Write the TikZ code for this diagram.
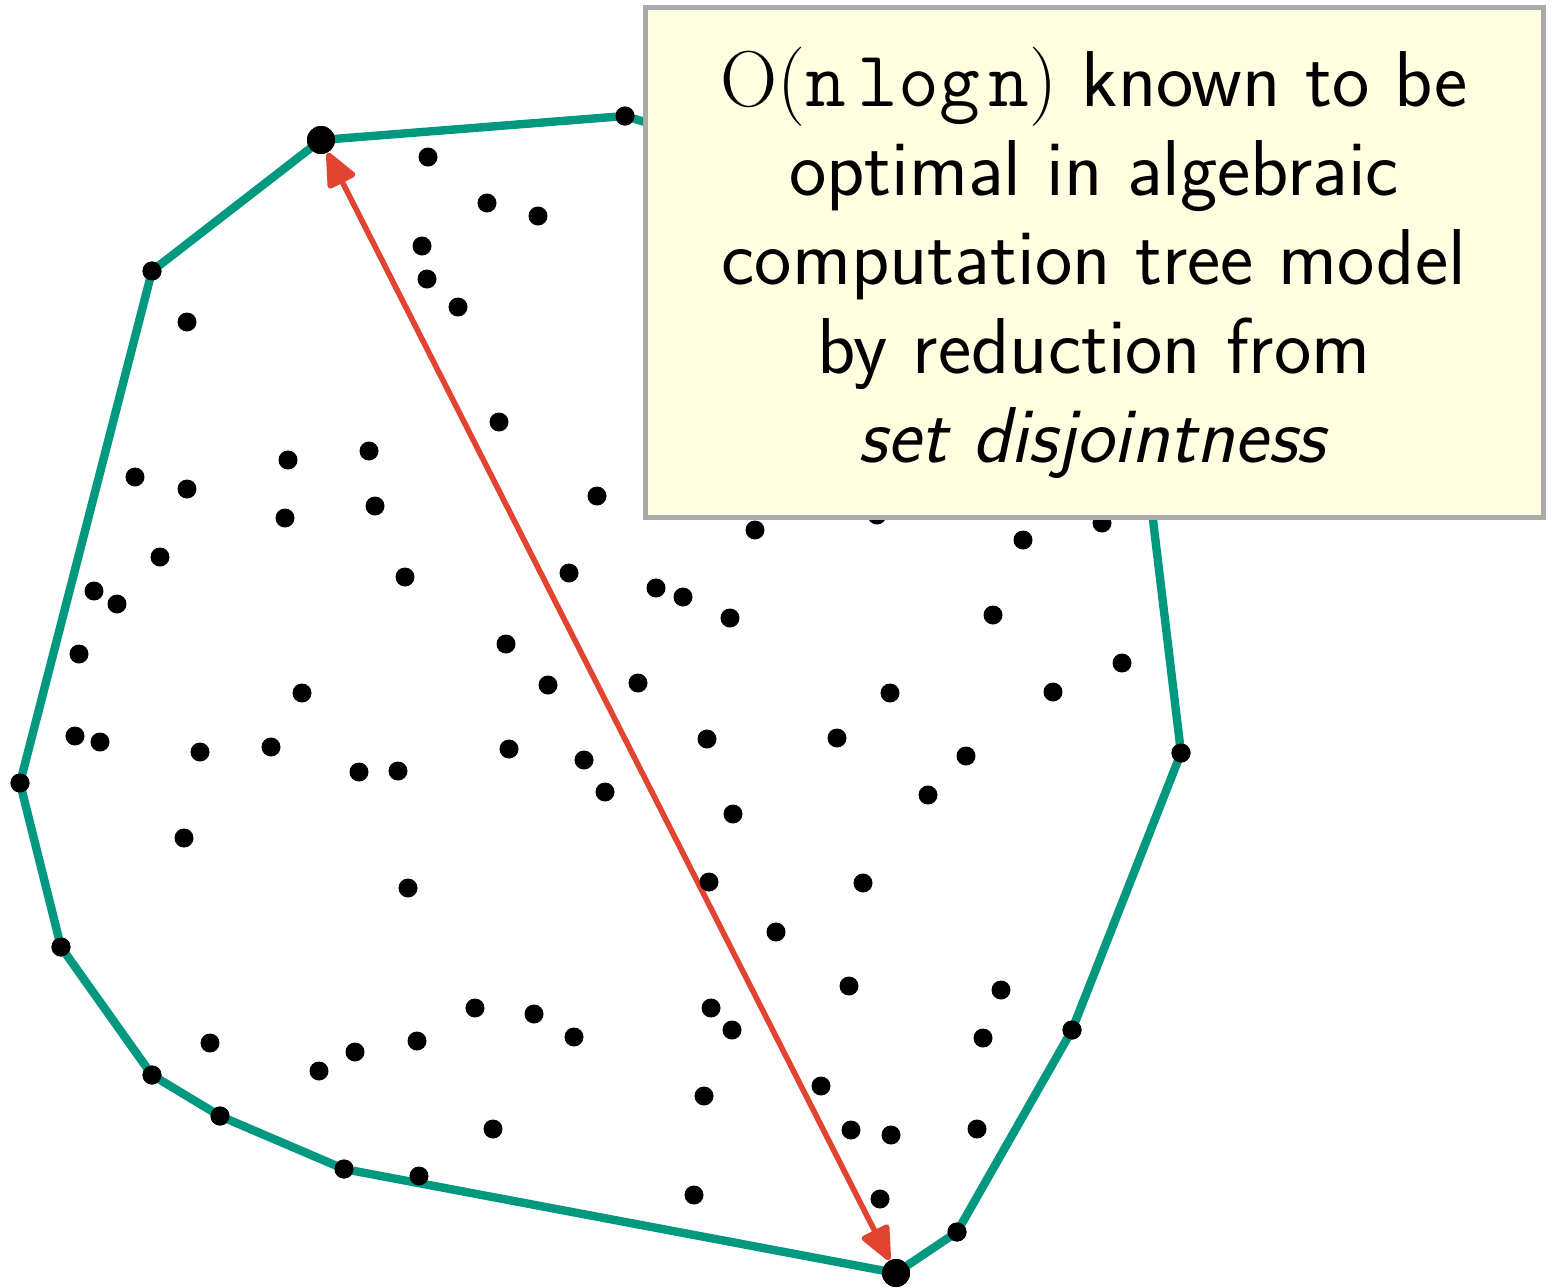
\documentclass[tikz,border=0pt]{standalone}
\usetikzlibrary{arrows.meta}
\definecolor{hullc}{RGB}{0,153,128}
\definecolor{arrowc}{RGB}{226,68,50}
\definecolor{notefill}{RGB}{255,254,224}
\definecolor{noteline}{RGB}{170,170,170}
\tikzset{
  dot/.style={circle,fill=black,inner sep=0pt,minimum size=9.5pt},
  bigdot/.style={circle,fill=black,inner sep=0pt,minimum size=14pt},
  hull/.style={draw=hullc,line width=4.2pt,line join=round},
  diam/.style={draw=arrowc,line width=2.8pt,{Triangle[length=19pt,width=16pt,round]}-{Triangle[length=19pt,width=16pt,round]}},
  note/.style={draw=noteline,fill=notefill,line width=2.5pt,minimum width=449pt,minimum height=255pt,align=center,inner sep=0pt,font=\sffamily\fontsize{39.6}{44.5}\selectfont}
}
\begin{document}
\begin{tikzpicture}[x=0.5pt,y=-0.5pt]
\useasboundingbox (0,0) rectangle (1552,1287);
% hull vertices
\node[bigdot] (top) at (321,140) {};
\node[bigdot] (bot) at (896,1273) {};
\node[dot] (h1) at (625,116) {};
\coordinate (hA) at (1000,228);
\coordinate (hB) at (1135,370);
\node[dot] (h2) at (1181,753) {};
\node[dot] (h3) at (1072,1030) {};
\node[dot] (h4) at (957,1232) {};
\node[dot] (h5) at (344,1169) {};
\node[dot] (h6) at (220,1116) {};
\node[dot] (h7) at (152,1075) {};
\node[dot] (h8) at (61,947) {};
\node[dot] (h9) at (20,783) {};
\node[dot] (h10) at (152,271) {};
\draw[hull] (top.center) -- (h1.center) -- (hA) -- (hB) -- (h2.center) -- (h3.center) -- (h4.center) -- (bot.center) -- (h5.center) -- (h6.center) -- (h7.center) -- (h8.center) -- (h9.center) -- (h10.center) -- cycle;
\draw[diam] (top) -- (bot);
% redraw hull dots on top
\foreach \n in {h1,h2,h3,h4,h5,h6,h7,h8,h9,h10} {\node[dot] at (\n) {};}
\node[bigdot] at (top) {};
\node[bigdot] at (bot) {};
% interior points
\foreach \px/\py [count=\i] in {
428/157, 487/203, 538/216, 422/246, 427/279, 458/307, 187/322,
499/422, 135/477, 187/489, 288/460, 369/451, 285/518, 375/506, 597/496,
160/557, 94/591, 117/604, 405/577, 569/573, 656/588, 683/597, 730/618,
755/530, 877/515, 1102/523, 1023/540, 993/615,
79/654, 506/644, 302/693, 548/685, 638/683, 890/693, 1053/692, 1122/663,
75/736, 100/742, 200/752, 271/747, 359/772, 398/771, 509/749, 584/760,
707/739, 837/738, 966/756, 605/792, 928/795, 733/814, 184/838,
408/888, 709/882, 863/883, 776/932, 849/986, 1001/990,
475/1008, 534/1014, 574/1037, 711/1008, 732/1030, 983/1038,
210/1043, 319/1071, 355/1052, 417/1041, 704/1096, 821/1086,
493/1129, 851/1130, 891/1135, 977/1129, 419/1176, 694/1195, 880/1199}
  \node[dot] (p\i) at (\px,\py) {};
% note box
\node[note] (box) at (1094,262.5) {\textrm{O(}\texttt{n}\hspace{6pt}\texttt{log}\hspace{4pt}\texttt{n}\textrm{)} known to be\\ optimal in algebraic\\ computation tree model\\ by reduction from\\ \textit{set disjointness}};
\end{tikzpicture}
\end{document}
